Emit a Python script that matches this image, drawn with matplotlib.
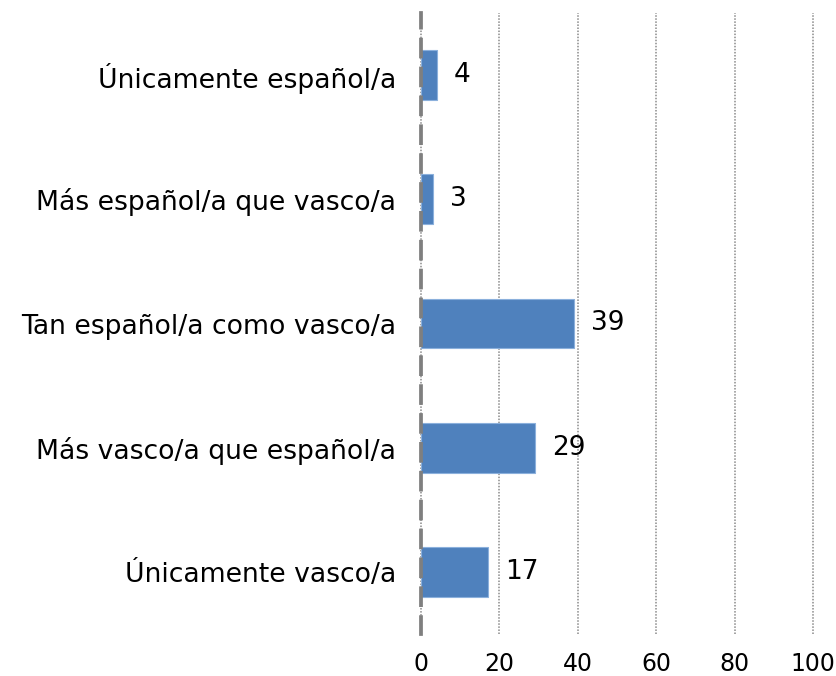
import matplotlib
matplotlib.use("Agg")
import matplotlib.pyplot as plt

categories = ["Únicamente español/a", "Más español/a que vasco/a",
              "Tan español/a como vasco/a", "Más vasco/a que español/a",
              "Únicamente vasco/a"]
values = [4, 3, 39, 29, 17]
xticks = [0, 20, 40, 60, 80, 100]

plt.rcParams['font.family'] = ['DejaVu Sans']

fig = plt.figure(figsize=(8.36, 6.76), dpi=100)
ax = fig.add_axes([421/836, 1 - 634/676, (813 - 421)/836, (634 - 13)/676])

ypos = list(range(len(categories)))
ax.barh(ypos, values, height=0.4, color="#4F81BD", edgecolor="#8BB0DC",
        linewidth=0.8, zorder=3)
for y, v in zip(ypos, values):
    ax.annotate(str(v), xy=(v, y), xytext=(12.5, 0), textcoords="offset points",
                ha="left", va="center", fontsize=19, color="black")

ax.set_ylim(len(categories) - 0.5, -0.5)
ax.set_xlim(0, 100)
ax.set_yticks(ypos)
ax.set_yticklabels(categories, fontsize=19.2)
ax.set_xticks(xticks)
ax.set_xticklabels([str(t) for t in xticks], fontsize=17)
ax.tick_params(axis="both", length=0)
ax.tick_params(axis="y", pad=18)
ax.tick_params(axis="x", pad=13)

for s in ["top", "right", "bottom"]:
    ax.spines[s].set_visible(False)
ax.spines["left"].set_color("#7F7F7F")
ax.spines["left"].set_linewidth(2.7)
ax.spines["left"].set_linestyle((0, (4.5, 3.2)))
ax.spines["left"].set_zorder(4)

ax.xaxis.grid(True, linestyle=(0, (1, 1)), color="#8A8A8A", linewidth=1.1, zorder=0)
for gl in ax.get_xgridlines():
    gl.set_clip_on(False)
ax.set_axisbelow(True)

fig.savefig("out.png", dpi=100)
